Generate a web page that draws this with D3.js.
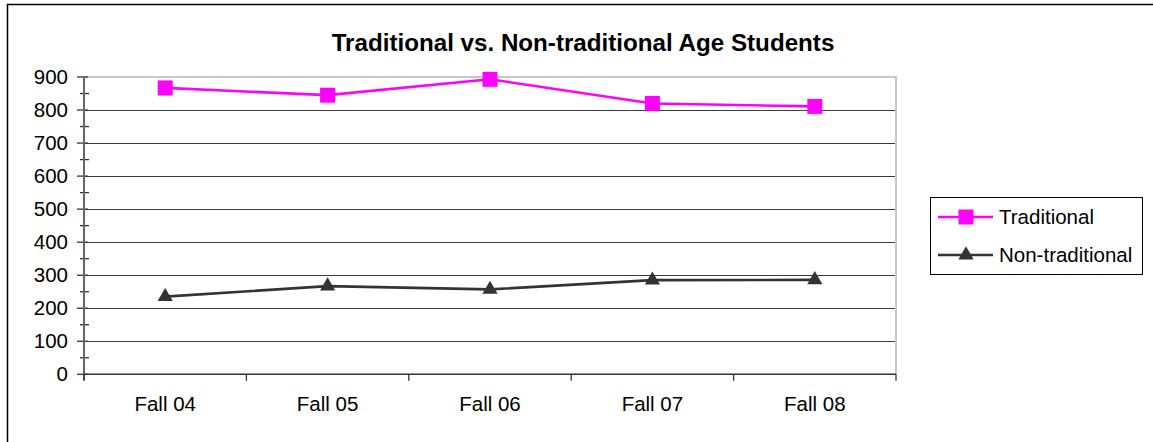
<!DOCTYPE html>
<html>
<head>
<meta charset="utf-8">
<script src="https://cdn.jsdelivr.net/npm/d3@7"></script>
<style>
  html, body { margin: 0; padding: 0; background: #fff; }
  svg { display: block; font-family: Arial, "Liberation Sans", sans-serif; }
</style>
</head>
<body>
<svg id="chart" width="1153" height="442"></svg>
<script>
const title = "Traditional vs. Non-traditional Age Students";
const categories = ["Fall 04", "Fall 05", "Fall 06", "Fall 07", "Fall 08"];
const traditional = [867, 845, 893, 820, 811];
const nonTraditional = [235, 267, 257, 285, 286];
const seriesNames = ["Traditional", "Non-traditional"];
const yTicks = [0, 100, 200, 300, 400, 500, 600, 700, 800, 900];

const pink = "#FF00FF", dark = "#333333";
const svg = d3.select("#chart");

// outer frame (extends past right/bottom edges)
svg.append("path").attr("d", "M7.5,1200 V4.5 H1300")
  .attr("fill", "none").attr("stroke", "#000").attr("stroke-width", 1.5);

const pLeft = 84, pRight = 896, pTop = 77, pBottom = 374.3;
const x = d3.scaleBand().domain(categories).range([pLeft, pRight]);
const y = d3.scaleLinear().domain([0, 900]).range([pBottom, pTop]);

// gridlines
svg.append("g").selectAll("line").data(yTicks.filter(v => v > 0 && v < 900)).join("line")
  .attr("x1", pLeft).attr("x2", pRight)
  .attr("y1", d => Math.round(y(d)) + 0.5).attr("y2", d => Math.round(y(d)) + 0.5)
  .attr("stroke", "#3a3a3a").attr("stroke-width", 1);

// plot area top/right border
svg.append("path").attr("d", `M${pLeft},${y(900)} H${pRight} V${pBottom}`)
  .attr("fill", "none").attr("stroke", "#c8c8c8").attr("stroke-width", 2);

// y axis
const yAxis = d3.axisLeft(y).tickValues(yTicks).tickSize(0).tickPadding(16);
const gy = svg.append("g").attr("transform", `translate(${pLeft},0)`).call(yAxis);
gy.select(".domain").remove();
gy.selectAll("text").attr("font-size", "20.5px").attr("fill", "#000")
  .attr("font-family", "Arial, 'Liberation Sans', sans-serif");
// major ticks
svg.append("g").selectAll("line").data(yTicks).join("line")
  .attr("x1", pLeft - 7).attr("x2", pLeft + 4)
  .attr("y1", d => y(d)).attr("y2", d => y(d))
  .attr("stroke", "#333").attr("stroke-width", 1.3);
// minor ticks
svg.append("g").selectAll("line").data(d3.range(50, 900, 100)).join("line")
  .attr("x1", pLeft - 4).attr("x2", pLeft + 5)
  .attr("y1", d => y(d)).attr("y2", d => y(d))
  .attr("stroke", "#333").attr("stroke-width", 1.3);
// y axis line
svg.append("line").attr("x1", pLeft).attr("x2", pLeft).attr("y1", pTop).attr("y2", pBottom + 6)
  .attr("stroke", "#666").attr("stroke-width", 2);

// x axis
const xAxis = d3.axisBottom(x).tickSize(0).tickPadding(22);
const gx = svg.append("g").attr("transform", `translate(0,${pBottom})`).call(xAxis);
gx.select(".domain").remove();
gx.selectAll("text").attr("font-size", "20.5px").attr("fill", "#000")
  .attr("font-family", "Arial, 'Liberation Sans', sans-serif");
svg.append("line").attr("x1", pLeft).attr("x2", pRight).attr("y1", pBottom).attr("y2", pBottom)
  .attr("stroke", "#333").attr("stroke-width", 1.5);
const bounds = categories.map(c => x(c)).concat([pRight]);
svg.append("g").selectAll("line").data(bounds).join("line")
  .attr("x1", d => d).attr("x2", d => d).attr("y1", pBottom).attr("y2", pBottom + 6.5)
  .attr("stroke", "#333").attr("stroke-width", 1.3);

const cx = c => x(c) + x.bandwidth() / 2;
const line = d3.line().x((d, i) => cx(categories[i])).y(d => y(d));

// traditional
svg.append("path").datum(traditional).attr("d", line)
  .attr("fill", "none").attr("stroke", pink).attr("stroke-width", 2.6);
svg.append("g").selectAll("rect").data(traditional).join("rect")
  .attr("x", (d, i) => cx(categories[i]) - 7.5).attr("y", d => y(d) - 7.5)
  .attr("width", 15).attr("height", 15).attr("fill", pink);

// non-traditional
const tri = d3.symbol().type(d3.symbolTriangle).size(100);
svg.append("path").datum(nonTraditional).attr("d", line)
  .attr("fill", "none").attr("stroke", dark).attr("stroke-width", 2.6);
svg.append("g").selectAll("path").data(nonTraditional).join("path")
  .attr("d", tri)
  .attr("transform", (d, i) => `translate(${cx(categories[i])},${y(d)})`)
  .attr("fill", dark);

// title
const t = svg.append("text").attr("x", 583).attr("y", 51).attr("text-anchor", "middle")
  .attr("font-weight", "bold").attr("font-size", "20px").attr("fill", "#000").text(title);
const w = t.node().getComputedTextLength();
t.attr("font-size", (20 * 503 / w).toFixed(2) + "px");

// legend
const lg = svg.append("g");
lg.append("rect").attr("x", 930.5).attr("y", 197.5).attr("width", 212).attr("height", 77)
  .attr("fill", "#fff").attr("stroke", "#000").attr("stroke-width", 1);
const rows = [217, 255];
seriesNames.forEach((name, i) => {
  const yy = rows[i];
  const col = i === 0 ? pink : dark;
  lg.append("line").attr("x1", 938).attr("x2", 993).attr("y1", yy).attr("y2", yy)
    .attr("stroke", col).attr("stroke-width", 2.6);
  if (i === 0) {
    lg.append("rect").attr("x", 966 - 7.5).attr("y", yy - 7.5).attr("width", 15).attr("height", 15).attr("fill", pink);
  } else {
    lg.append("path").attr("d", tri).attr("transform", `translate(966,${yy})`).attr("fill", dark);
  }
  lg.append("text").attr("x", 999).attr("y", yy).attr("dy", "0.36em")
    .attr("font-size", "20.5px").attr("fill", "#000").text(name);
});
</script>
</body>
</html>
